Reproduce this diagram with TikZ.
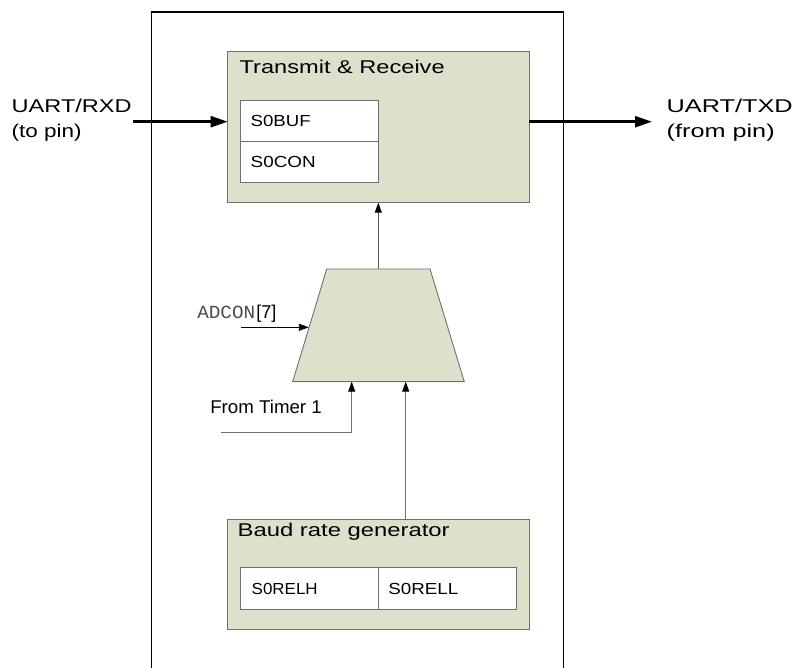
\documentclass[tikz,border=0pt]{standalone}
\usepackage{fontspec}
\setmainfont{Liberation Sans}
\setmonofont{Liberation Mono}
\usetikzlibrary{arrows.meta}
\definecolor{boxfill}{RGB}{221,225,204}
\definecolor{boxline}{RGB}{112,112,112}
\newcommand{\fw}[2]{\resizebox{#1pt}{\height}{#2}}
\begin{document}
\begin{tikzpicture}[x=1pt,y=-1pt,
  panel/.style={draw=boxline, fill=boxfill, line width=0.9pt, inner sep=0pt, outer sep=0pt, anchor=north west},
  regbox/.style={draw=boxline, fill=white, line width=0.9pt, inner sep=0pt, outer sep=0pt, anchor=north west},
  lbl/.style={inner sep=0pt, outer sep=0pt, anchor=base west, font=\fontsize{18.5}{20}\selectfont},
  reg/.style={lbl, font=\fontsize{16}{18}\selectfont},
  thick arrow/.style={line width=2.4pt, -{Triangle[length=17pt,width=11pt]}},
  thin arrow/.style={line width=0.9pt, -{Triangle[length=10pt,width=7pt,color=black]}},
]
\useasboundingbox (0,0) rectangle (796,668);
% outer frame
\draw[line width=1.3pt] (151.7,672) -- (151.7,12) -- (563.5,12) -- (563.5,672);
% transmit & receive
\node[panel, minimum width=301.6pt, minimum height=151pt] (tr) at (227.7,51.7) {};
\node[regbox, minimum width=138pt, minimum height=41.7pt] (buf) at (240.3,100) {};
\node[regbox, minimum width=138pt, minimum height=40.6pt] (con) at (240.3,141.7) {};
% baud rate generator
\node[panel, minimum width=302pt, minimum height=109.7pt] (baud) at (227.3,519.3) {};
\node[regbox, minimum width=138pt, minimum height=41.7pt] (relh) at (240.3,567.3) {};
\node[regbox, minimum width=137.7pt, minimum height=41.7pt] (rell) at (378.3,567.3) {};
% multiplexer
\coordinate (mtl) at (326.7,269);
\coordinate (mtr) at (430,269);
\coordinate (mbr) at (464.3,381.7);
\coordinate (mbl) at (292.7,381.7);
\draw[draw=boxline, fill=boxfill, line width=0.9pt] (mtl) -- (mtr) -- (mbr) -- (mbl) -- cycle;
\coordinate (mout) at (378.3,269);
\coordinate (min1) at (351.7,381.7);
\coordinate (min2) at (405.7,381.7);
\coordinate (madc) at (308.8,327.3);
% free ends
\coordinate (rxs) at (133,121.7);
\coordinate (txe) at (652,121.7);
\coordinate (adcs) at (241,327.3);
\coordinate (tms) at (220.7,432);
% connectors
\draw[thick arrow] (rxs) -- (rxs -| tr.west);
\draw[thick arrow] (txe -| tr.east) -- (txe);
\draw[thin arrow, draw=boxline!80!black] (mout) -- (mout |- tr.south);
\draw[thin arrow, draw=black] (adcs) -- (madc);
\draw[thin arrow, draw=boxline] (tms) -- (tms -| min1) -- (min1);
\draw[thin arrow, draw=boxline] (baud.north -| min2) -- (min2);
% texts
\node[lbl] (rxd) at (11.7,112.3) {\fw{120}{UART/RXD}};
\node[lbl] (rxd2) at (11.7,137.3) {\fw{70}{(to pin)}};
\node[lbl] (txd) at (666.7,112.3) {\fw{126}{UART/TXD}};
\node[lbl] (txd2) at (666.7,137.3) {\fw{108}{(from pin)}};
\node[lbl] (trt) at (239.7,73.7) {\fw{205}{Transmit \& Receive}};
\node[reg] (buft) at (250.7,126.5) {\fw{60}{S0BUF}};
\node[reg] (cont) at (250.7,167.5) {\fw{65}{S0CON}};
\node[lbl] (baudt) at (237.7,536.7) {\fw{212}{Baud rate generator}};
\node[reg] (relht) at (251.7,594) {\fw{66}{S0RELH}};
\node[reg] (rellt) at (388.3,594) {\fw{70}{S0RELL}};
\node[lbl] (tmt) at (210.3,413.3) {\fw{111.5}{From Timer 1}};
\node[lbl, font=\fontsize{18.5}{20}\selectfont] (adct) at (197.3,318.3) {\fw{58}{\ttfamily\color{black!70}ADCON}\hspace{1pt}\fw{20}{[7]}};
\end{tikzpicture}
\end{document}
